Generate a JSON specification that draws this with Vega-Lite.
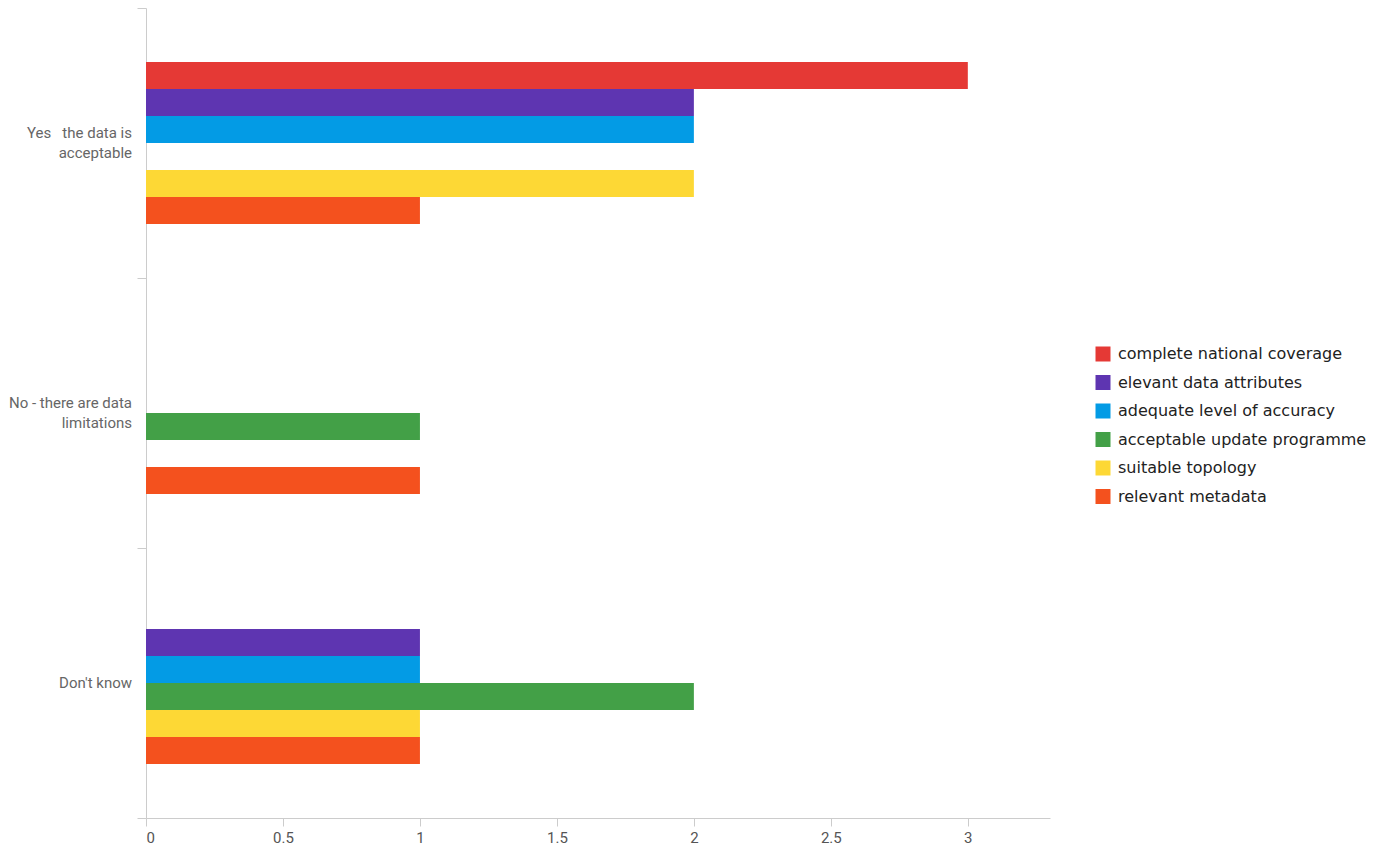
{
  "$schema": "https://vega.github.io/schema/vega-lite/v6.json",
  "width": 904,
  "height": 810,
  "autosize": {"type": "none"},
  "padding": {"left": 146, "top": 8, "right": 336, "bottom": 29},
  "background": "white",
  "config": {"view": {"stroke": null}},
  "layer": [
    {
      "data": {
        "values": [
          {"answer": "Yes", "criterion": "complete national coverage", "count": 3},
          {"answer": "Yes", "criterion": "elevant data attributes", "count": 2},
          {"answer": "Yes", "criterion": "adequate level of accuracy", "count": 2},
          {"answer": "Yes", "criterion": "suitable topology", "count": 2},
          {"answer": "Yes", "criterion": "relevant metadata", "count": 1},
          {"answer": "No", "criterion": "acceptable update programme", "count": 1},
          {"answer": "No", "criterion": "relevant metadata", "count": 1},
          {"answer": "Don't know", "criterion": "elevant data attributes", "count": 1},
          {"answer": "Don't know", "criterion": "adequate level of accuracy", "count": 1},
          {"answer": "Don't know", "criterion": "acceptable update programme", "count": 2},
          {"answer": "Don't know", "criterion": "suitable topology", "count": 1},
          {"answer": "Don't know", "criterion": "relevant metadata", "count": 1}
        ]
      },
      "mark": {"type": "bar"},
      "encoding": {
        "y": {
          "field": "answer",
          "type": "nominal",
          "scale": {"domain": ["Yes", "No", "Don't know"], "paddingInner": 0, "paddingOuter": 0},
          "axis": {
            "title": null,
            "labels": false,
            "tickBand": "extent",
            "tickSize": 9,
            "tickColor": "#cccccc",
            "domainColor": "#cccccc"
          }
        },
        "yOffset": {
          "field": "criterion",
          "type": "nominal",
          "scale": {
            "domain": ["_pad1", "_pad2", "complete national coverage", "elevant data attributes", "adequate level of accuracy", "acceptable update programme", "suitable topology", "relevant metadata", "_pad3", "_pad4"],
            "paddingInner": 0,
            "paddingOuter": 0
          }
        },
        "x": {
          "field": "count",
          "type": "quantitative",
          "scale": {"domain": [0, 3.3], "nice": false},
          "axis": {
            "title": null,
            "values": [0, 0.5, 1, 1.5, 2, 2.5, 3],
            "format": "~g",
            "grid": false,
            "tickSize": 8,
            "tickColor": "#cccccc",
            "domainColor": "#cccccc",
            "labelFont": "Roboto",
            "labelFontSize": 15,
            "labelColor": "#555555",
            "labelPadding": 4
          }
        },
        "color": {
          "field": "criterion",
          "type": "nominal",
          "scale": {
            "domain": ["complete national coverage", "elevant data attributes", "adequate level of accuracy", "acceptable update programme", "suitable topology", "relevant metadata"],
            "range": ["#E53935", "#5E35B1", "#039BE5", "#43A047", "#FDD835", "#F4511E"]
          },
          "legend": {
            "title": null,
            "orient": "none",
            "legendX": 949,
            "legendY": 338,
            "padding": 0,
            "symbolType": "square",
            "symbolSize": 225,
            "symbolStrokeWidth": 0,
            "symbolOpacity": 1,
            "labelFont": "DejaVu Sans",
            "labelFontSize": 16,
            "labelColor": "#222222",
            "labelOffset": 7,
            "rowPadding": 12.5,
            "labelLimit": 300,
            "labelExpr": "datum.label == 'elevant data attributes' ? '\u2002elevant data attributes' : datum.label"
          }
        }
      }
    },
    {
      "data": {
        "values": [
          {"answer": "Yes", "text": "Yes\u00a0\u00a0\u00a0the data is|acceptable"},
          {"answer": "No", "text": "No - there are data|limitations"}
        ]
      },
      "mark": {"type": "text", "lineBreak": "|", "align": "right", "baseline": "middle", "dx": -14, "dy": -10, "lineHeight": 20, "font": "Roboto", "fontSize": 15, "color": "#666666"},
      "encoding": {
        "y": {
          "field": "answer",
          "type": "nominal",
          "scale": {"domain": ["Yes", "No", "Don't know"]},
          "axis": {
            "title": null,
            "labels": false,
            "tickBand": "extent",
            "tickSize": 9,
            "tickColor": "#cccccc",
            "domainColor": "#cccccc"
          }
        },
        "x": {"datum": 0},
        "text": {"field": "text"}
      }
    },
    {
      "data": {
        "values": [
          {"answer": "Don't know", "text": "Don't know"}
        ]
      },
      "mark": {"type": "text", "align": "right", "baseline": "middle", "dx": -14, "font": "Roboto", "fontSize": 15, "color": "#666666"},
      "encoding": {
        "y": {
          "field": "answer",
          "type": "nominal",
          "scale": {"domain": ["Yes", "No", "Don't know"]},
          "axis": {
            "title": null,
            "labels": false,
            "tickBand": "extent",
            "tickSize": 9,
            "tickColor": "#cccccc",
            "domainColor": "#cccccc"
          }
        },
        "x": {"datum": 0},
        "text": {"field": "text"}
      }
    }
  ]
}
